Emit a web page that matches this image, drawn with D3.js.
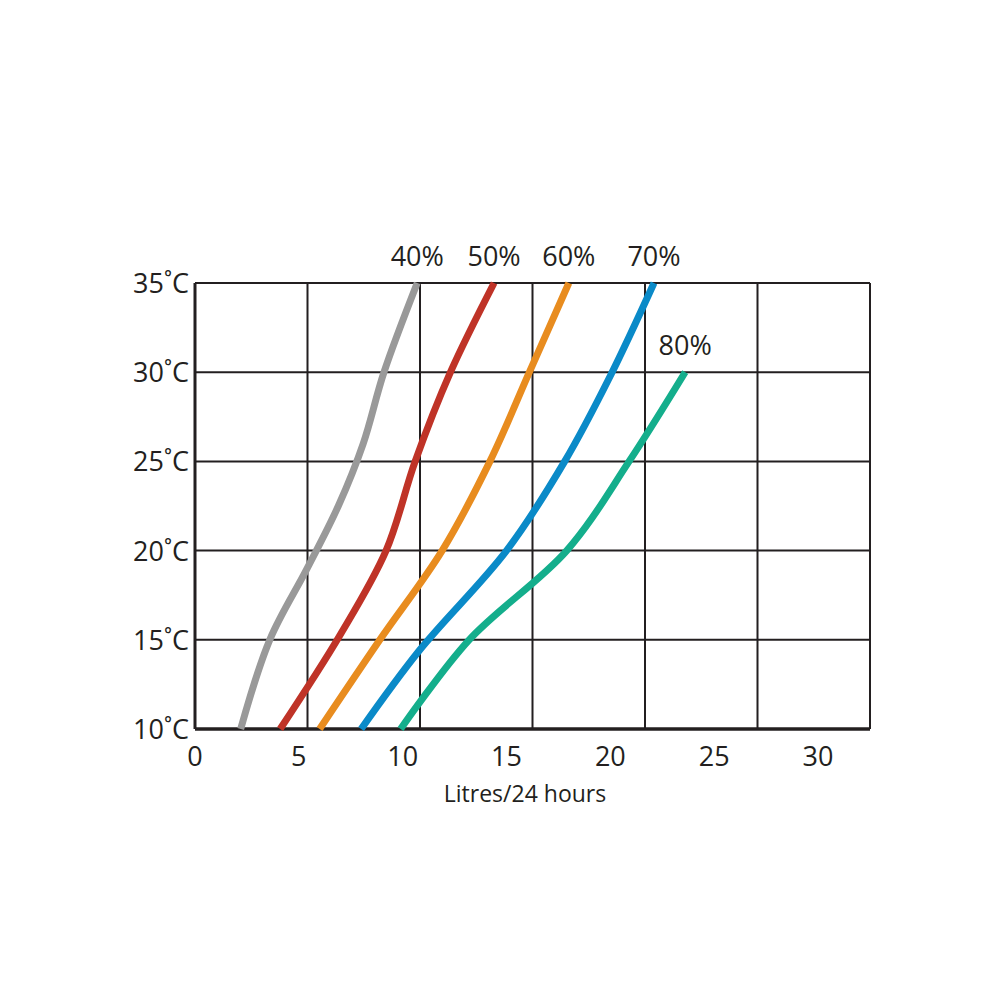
<!DOCTYPE html><html><head><meta charset="utf-8"><script src="https://cdn.jsdelivr.net/npm/d3@7"></script>
<style>body{margin:0;background:#fff}text{font-family:"Open Sans",sans-serif;fill:#231f20}</style></head><body><svg id="c" width="1000" height="1000"></svg><script>
const xTicks=[0,5,10,15,20,25,30];
const yTicks=[10,15,20,25,30,35];
const seriesNames=["40%","50%","60%","70%","80%"];
const colors=["#999999","#bf3327","#e88c1f","#0a8ac8","#14ae8c"];
const s40=[[2.2,10],[3.6,15],[5.4,19],[6.9,22.5],[8.1,26],[9.1,30],[10.7,35]];
const s50=[[4.1,10],[7.0,15.3],[9.2,20],[10.6,25],[12.3,30],[14.4,35]];
const s60=[[6.0,10],[8.9,15],[11.9,20],[14.2,25],[16.1,30],[18.0,35]];
const s70=[[8.0,10],[10.8,14.4],[15.0,20],[17.8,25],[20.0,29.8],[22.1,35]];
const s80=[[9.9,10],[13.2,15],[17.9,20],[20.9,25],[23.6,30]];
const series=[s40,s50,s60,s70,s80];
const svg=d3.select("#c");
const x=d3.scaleLinear().domain([0,32.5]).range([195,870]);
const xl=d3.scaleLinear().domain([0,30]).range([195,818]);
const y=d3.scaleLinear().domain([10,35]).range([729,283]);
const g=svg.append("g");
d3.range(7).map(i=>32.5*i/6).forEach(v=>g.append("line").attr("x1",x(v)).attr("x2",x(v)).attr("y1",y(10)).attr("y2",y(35)).attr("stroke","#231f20").attr("stroke-width",v==0?3:2));
yTicks.forEach(v=>g.append("line").attr("x1",x(0)).attr("x2",x(32.5)).attr("y1",y(v)).attr("y2",y(v)).attr("stroke","#231f20").attr("stroke-width",v==10?3.5:2));
yTicks.forEach(v=>g.append("text").attr("x",189).attr("y",y(v)+10).attr("text-anchor","end").attr("font-size",27).text(v+"˚C"));
xTicks.forEach(v=>g.append("text").attr("x",xl(v)).attr("y",766).attr("text-anchor","middle").attr("font-size",27).text(v));
g.append("text").attr("x",525).attr("y",802).attr("text-anchor","middle").attr("font-size",23).text("Litres/24 hours");
const line=d3.line().x(d=>x(d[0])).y(d=>y(d[1])).curve(d3.curveCatmullRom.alpha(0.5));
series.forEach((s,i)=>{g.append("path").attr("d",line(s)).attr("fill","none").attr("stroke",colors[i]).attr("stroke-width",7);
const last=s[s.length-1];g.append("text").attr("x",x(last[0])).attr("y",y(last[1])-17).attr("text-anchor","middle").attr("font-size",27).text(seriesNames[i]);});
</script></body></html>
